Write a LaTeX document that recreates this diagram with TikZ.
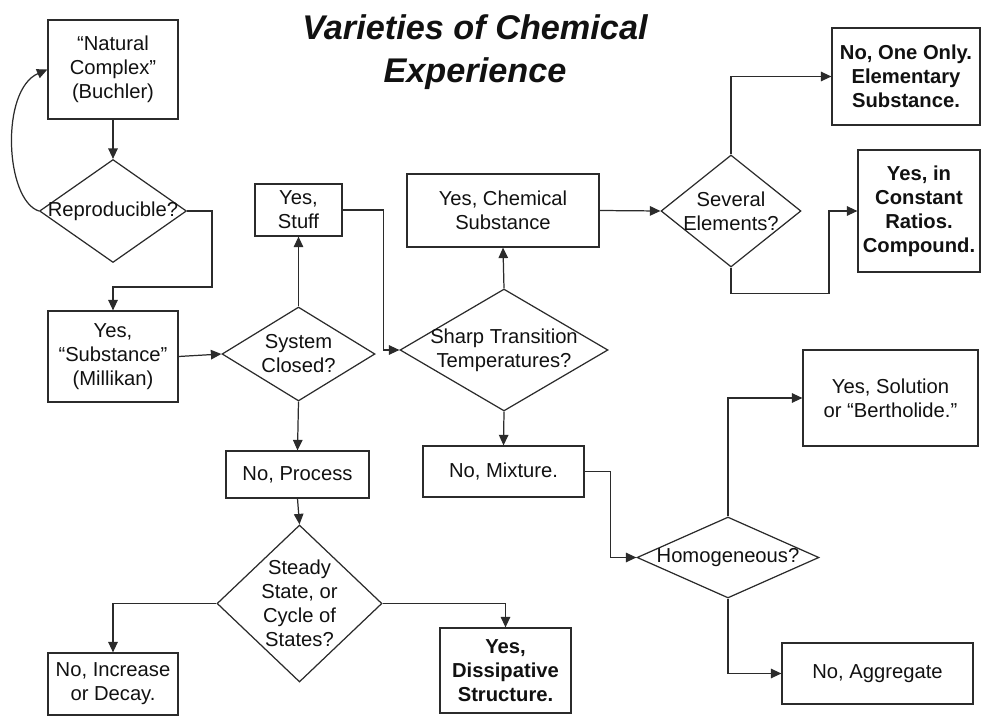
\documentclass[tikz,border=0pt]{standalone}
\usepackage{fontspec}
\setmainfont{Liberation Sans}
\usepackage{xcolor}
\usepackage{tikz}
\usetikzlibrary{calc,arrows.meta,shapes.geometric,positioning}
\definecolor{ink}{HTML}{2B2B2B}
\definecolor{text}{HTML}{111111}
\tikzset{
  box/.style={draw=ink, line width=0.7pt, align=center, inner sep=2pt, text=text, font=\fontsize{11.5}{13.7}\selectfont},
  boxb/.style={box, font=\fontsize{11.5}{13.7}\selectfont\bfseries},
  dia/.style={diamond, draw=ink, line width=0.7pt, inner sep=0pt},
  lab/.style={text=text, align=center, inner sep=0pt, font=\fontsize{11.5}{13.7}\selectfont},
  link/.style={draw=ink, line width=0.7pt, -{Triangle[length=2.1mm,width=1.9mm]}},
  ttl/.style={text=text, align=center, font=\fontsize{19.5}{24}\selectfont\bfseries\itshape},
}

\begin{document}
\begin{tikzpicture}[x=0.02cm, y=-0.02cm]
\useasboundingbox (0,0) rectangle (985,720);
\node[ttl, anchor=base] (title) at (475,82) {Varieties of Chemical\\Experience};

% left column
\node[box, minimum width=2.6cm, minimum height=1.98cm] (nat) at (113,69.5) {“Natural\\Complex”\\(Buchler)};
\node[dia, minimum width=2.94cm, minimum height=2.06cm, label={[lab,name=rep-t]center:Reproducible?}] (rep) at (113,211) {};
\node[box, minimum width=2.6cm, minimum height=1.82cm] (subst) at (113,356.5) {Yes,\\“Substance”\\(Millikan)};

% middle column
\node[box, minimum width=1.74cm, minimum height=1.04cm] (stuff) at (298.5,210) {Yes,\\Stuff};
\node[dia, minimum width=3.06cm, minimum height=1.88cm, label={[lab,name=sysc-t]center:{System\\Closed?}}] (sysc) at (298.5,354) {};
\node[box, minimum width=2.86cm, minimum height=0.94cm] (proc) at (297.5,474.5) {No, Process};
\node[dia, minimum width=3.3cm, minimum height=3.14cm, label={[lab,name=steady-t]center:{Steady\\State, or\\Cycle of\\States?}}] (steady) at (299.5,603.5) {};
\node[box, minimum width=2.6cm, minimum height=1.24cm] (decay) at (113,684) {No, Increase\\or Decay.};
\node[boxb, minimum width=2.62cm, minimum height=1.7cm] (dissip) at (505.5,670.5) {Yes,\\Dissipative\\Structure.};

% substance branch
\node[box, minimum width=3.84cm, minimum height=1.46cm] (chem) at (503,210.5) {Yes, Chemical\\Substance};
\node[dia, minimum width=4.16cm, minimum height=2.44cm, label={[lab,name=sharp-t]center:{Sharp Transition\\Temperatures?}}] (sharp) at (504,350) {};
\node[box, minimum width=3.22cm, minimum height=1.02cm] (mix) at (503.5,471.5) {No, Mixture.};
\node[dia, minimum width=2.8cm, minimum height=2.24cm, label={[lab,name=sev-t]center:{Several\\Elements?}}] (sev) at (731,211) {};
\node[boxb, minimum width=2.96cm, minimum height=1.94cm] (elem) at (906,76.5) {No, One Only.\\Elementary\\Substance.};
\node[boxb, minimum width=2.44cm, minimum height=2.44cm] (comp) at (919,211) {Yes, in\\Constant\\Ratios.\\Compound.};
\node[dia, minimum width=3.64cm, minimum height=1.62cm, label={[lab,name=homo-t]center:Homogeneous?}] (homo) at (728,557.5) {};
\node[box, minimum width=3.5cm, minimum height=1.92cm] (sol) at (890.5,398) {Yes, Solution\\or “Bertholide.”};
\node[box, minimum width=3.82cm, minimum height=1.22cm] (aggr) at (877.5,673.5) {No, Aggregate};

% connectors
\draw[link] (nat.south) -- (rep.north);
\draw[link] (rep.west) .. controls (5,200) and (0,90) .. (nat.west);
\draw[link] (rep.east) -| ++(25,76) -| (subst.north);
\draw[link] (subst.east) -- (sysc.west);
\draw[link] (sysc.north) -- (stuff.south);
\draw[link] (sysc.south) -- (proc.north);
\draw[link] (proc.south) -- (steady.north);
\draw[link] (steady.west) -| (decay.north);
\draw[link] (steady.east) -| (dissip.north);
\draw[link] (stuff.east) -- ++(41,0) |- (sharp.west);
\draw[link] (sharp.north) -- (chem.south);
\draw[link] (sharp.south) -- (mix.north);
\draw[link] (chem.east) -- (sev.west);
\draw[link] (sev.north) |- (elem.west);
\draw[link] (sev.south) |- ++(98,26) |- (comp.west);
\draw[link] (mix.east) -- ++(26,0) |- (homo.west);
\draw[link] (homo.north) |- (sol.west);
\draw[link] (homo.south) |- (aggr.west);
\end{tikzpicture}
\end{document}
